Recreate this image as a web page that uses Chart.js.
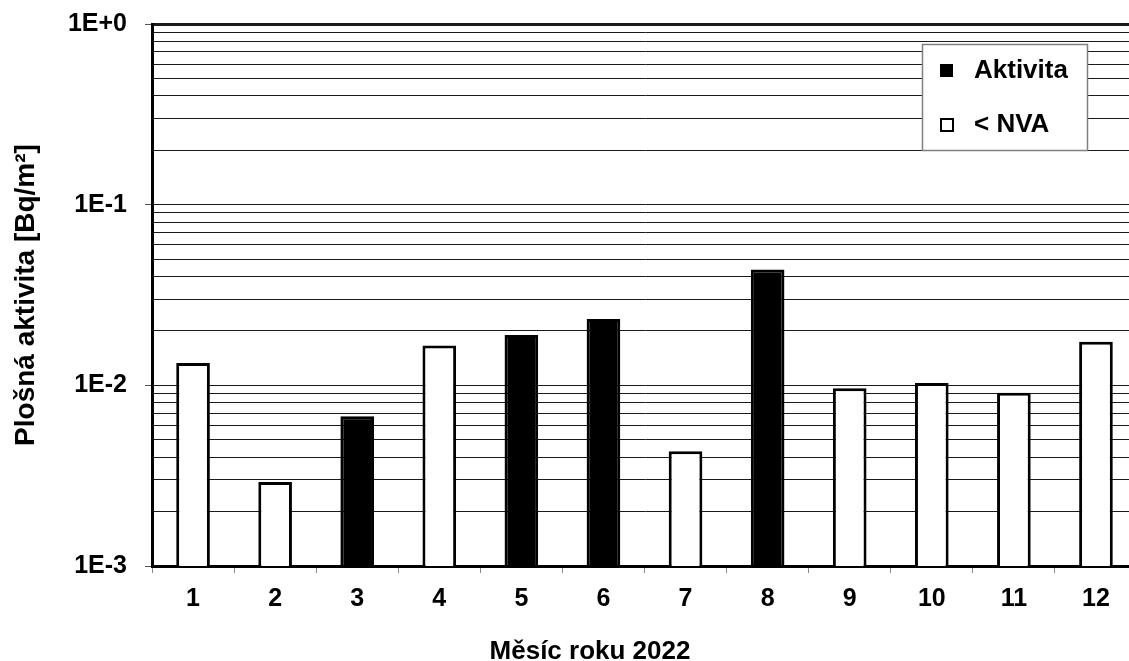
<!DOCTYPE html>
<html>
<head>
<meta charset="utf-8">
<script src="https://cdn.jsdelivr.net/npm/chart.js@4/dist/chart.umd.min.js"></script>
<style>
  html, body { margin: 0; padding: 0; overflow: hidden; background: #fff; width: 1129px; height: 661px; }
  #wrap { position: relative; width: 1140px; height: 680px; }
</style>
</head>
<body>
<div id="wrap"><canvas id="c" width="1140" height="680"></canvas></div>
<script>
// Monthly surface activity, 2022 (Bq/m2)
const months = ['1', '2', '3', '4', '5', '6', '7', '8', '9', '10', '11', '12'];
// measured activity
const aktivita = [null, null, 0.00675, null, 0.0190, 0.0233, null, 0.0437, null, null, null, null];
// below detection limit (value of the limit)
const podNVA = [0.0133, 0.00292, null, 0.0166, null, null, 0.00431, null, 0.00962, 0.0103, 0.0091, 0.0174];
const seriesNames = ['Aktivita', '< NVA'];
const yDecades = [-3, -2, -1, 0];
const yTickLabels = ['1E-3', '1E-2', '1E-1', '1E+0'];
const xTitle = 'Měsíc roku 2022';
const yTitle = 'Plošná aktivita [Bq/m²]';

const FONT = "'Liberation Sans', Arial, sans-serif";

const isDecade = v => Math.abs(Math.log10(v) - Math.round(Math.log10(v))) < 1e-9;

// legend drawn as a framed box inside the plot, plus the x-axis caption
const decorations = {
  id: 'decorations',
  afterDatasetsDraw(chart) {
    const ctx = chart.ctx;
    const x = 922, y = 44, w = 165, h = 106;
    ctx.save();
    ctx.fillStyle = '#fff';
    ctx.fillRect(x, y, w, h);
    ctx.strokeStyle = '#808080';
    ctx.lineWidth = 1.5;
    ctx.strokeRect(x + 0.5, y + 0.5, w, h);
    ctx.font = 'bold 26px ' + FONT;
    ctx.textBaseline = 'middle';
    ctx.textAlign = 'left';
    chart.data.datasets.forEach((ds, i) => {
      const cy = 71 + i * 54;
      if (ds.backgroundColor === '#000') {
        ctx.fillStyle = '#000';
        ctx.fillRect(940, cy - 7, 13, 13);
      } else {
        ctx.strokeStyle = '#000';
        ctx.lineWidth = 2;
        ctx.strokeRect(941, cy - 6, 12, 12);
      }
      ctx.fillStyle = '#000';
      ctx.fillText(ds.label, 974, cy);
    });
    ctx.restore();
  },
  afterDraw(chart) {
    const ctx = chart.ctx;
    ctx.save();
    ctx.font = 'bold 26px ' + FONT;
    ctx.fillStyle = '#000';
    ctx.textAlign = 'center';
    ctx.textBaseline = 'middle';
    ctx.fillText(xTitle, 590, 652);
    ctx.restore();
  }
};

new Chart(document.getElementById('c'), {
  type: 'bar',
  data: {
    labels: months,
    datasets: [
      { label: seriesNames[0], data: aktivita, backgroundColor: '#000', borderColor: '#000', borderWidth: 3, grouped: false },
      { label: seriesNames[1], data: podNVA, backgroundColor: '#fff', borderColor: '#000', borderWidth: 3, grouped: false }
    ]
  },
  options: {
    responsive: false,
    animation: false,
    devicePixelRatio: 1,
    layout: { padding: { top: 24, right: 3, left: 0, bottom: 0 } },
    datasets: { bar: { barPercentage: 0.41, categoryPercentage: 1.0 } },
    plugins: { legend: { display: false }, tooltip: { enabled: false } },
    scales: {
      x: {
        offset: true,
        grid: { display: true, offset: true, drawOnChartArea: false, drawTicks: true, tickLength: 7, tickColor: '#888', tickWidth: 1 },
        border: { display: true, color: '#000', width: 3 },
        ticks: { color: '#000', font: { family: FONT, size: 25, weight: 'bold' }, padding: 11, maxRotation: 0 },
        title: { display: false },
        afterFit(scale) { scale.height = 680 - 566; scale.paddingLeft = 0; scale.paddingRight = 0; }
      },
      y: {
        type: 'logarithmic',
        min: 0.001,
        max: 1,
        afterBuildTicks(scale) {
          const t = [];
          for (let i = 0; i < yDecades.length - 1; i++) {
            for (let k = 1; k < 10; k++) t.push({ value: +(k * Math.pow(10, yDecades[i])).toPrecision(6) });
          }
          t.push({ value: Math.pow(10, yDecades[yDecades.length - 1]) });
          scale.ticks = t;
        },
        grid: {
          color: '#1a1a1a',
          lineWidth: c => (c.tick && c.tick.value === 1) ? 3 : 1,
          drawTicks: true,
          tickLength: 7,
          tickWidth: 1,
          tickColor: c => (c.tick && isDecade(c.tick.value)) ? '#555' : 'rgba(0,0,0,0)'
        },
        border: { display: true, color: '#000', width: 3 },
        ticks: {
          autoSkip: false,
          color: '#000',
          padding: 18,
          font: { family: FONT, size: 25, weight: 'bold' },
          callback: v => {
            if (!isDecade(v)) return '';
            const i = yDecades.indexOf(Math.round(Math.log10(v)));
            return i >= 0 ? yTickLabels[i] : '';
          }
        },
        title: { display: true, text: yTitle, color: '#000', font: { family: FONT, size: 28, weight: 'bold' }, padding: { top: 9, bottom: 0 } },
        afterFit(scale) { scale.width = 152; scale.paddingTop = 0; scale.paddingBottom = 0; }
      }
    }
  },
  plugins: [decorations]
});
</script>
</body>
</html>
